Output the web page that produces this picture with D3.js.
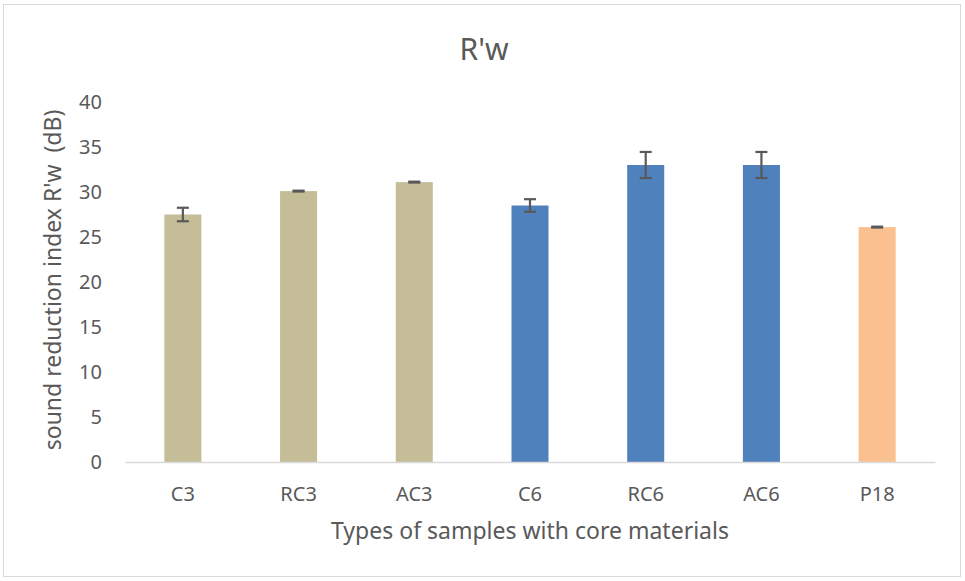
<!DOCTYPE html>
<html><head><meta charset="utf-8">
<script src="https://cdn.jsdelivr.net/npm/d3@7"></script>
<style>body{margin:0;background:#fff}text{font-family:"Noto Sans",sans-serif;fill:#595959}</style>
</head><body>
<svg id="c" width="965" height="581"></svg>
<script>
const categories = ["C3","RC3","AC3","C6","RC6","AC6","P18"];
const values = [27.5, 30.1, 31.1, 28.5, 33.0, 33.0, 26.1];
const errors = [0.75, 0.05, 0.05, 0.7, 1.45, 1.45, 0.05];
const groups = ["3","3","3","6","6","6","18"];
const yTicks = [0,5,10,15,20,25,30,35,40];
const colorByGroup = {"3":"#C4BD97","6":"#4F81BD","18":"#FAC090"};

const svg = d3.select("#c");
svg.append("rect").attr("x",3.5).attr("y",4.5).attr("width",957).attr("height",572)
  .attr("fill","#fff").attr("stroke","#d9d9d9");

const m = {l:125, r:935, t:102, b:462};
const x = d3.scaleBand().domain(categories).range([m.l,m.r]).paddingInner(0.68).paddingOuter(0.34);
const y = d3.scaleLinear().domain([0,40]).range([m.b,m.t]);

svg.append("text").attr("x",484).attr("y",60).attr("text-anchor","middle")
  .style("font-size","30px").text("R'w");

// y tick labels
const ya = svg.append("g").attr("transform",`translate(${m.l},0)`)
  .call(d3.axisLeft(y).tickValues(yTicks).tickSize(0).tickPadding(23));
ya.select(".domain").remove();
ya.selectAll("text").style("font-size","20px").attr("fill","#595959").style("font-family",'"Noto Sans",sans-serif');

// bars
svg.selectAll("rect.bar").data(categories).join("rect").attr("class","bar")
  .attr("x",d=>x(d)).attr("width",x.bandwidth())
  .attr("y",(d,i)=>y(values[i])).attr("height",(d,i)=>y(0)-y(values[i]))
  .attr("fill",(d,i)=>colorByGroup[groups[i]]);

// error bars
const eg = svg.append("g").attr("stroke","#595959").attr("stroke-width",2.2);
categories.forEach((c,i)=>{
  const cx = x(c)+x.bandwidth()/2;
  const y1 = y(values[i]+errors[i]), y2 = y(values[i]-errors[i]);
  eg.append("line").attr("x1",cx).attr("x2",cx).attr("y1",y1).attr("y2",y2);
  eg.append("line").attr("x1",cx-6).attr("x2",cx+6).attr("y1",y1).attr("y2",y1);
  eg.append("line").attr("x1",cx-6).attr("x2",cx+6).attr("y1",y2).attr("y2",y2);
});

// x axis
const xa = svg.append("g").attr("transform",`translate(0,${m.b})`)
  .call(d3.axisBottom(x).tickSize(0).tickPadding(25));
xa.select(".domain").attr("stroke","#d9d9d9").attr("stroke-width",1.5);
xa.selectAll("text").style("font-size","20px").attr("fill","#595959").style("font-family",'"Noto Sans",sans-serif');

svg.append("text").attr("x",530).attr("y",539).attr("text-anchor","middle")
  .style("font-size","23px").text("Types of samples with core materials");
svg.append("text").attr("transform","translate(61,280) rotate(-90)").attr("text-anchor","middle")
  .style("font-size","23px").style("white-space","pre").text("sound reduction index R'w  (dB)");
</script>
</body></html>
